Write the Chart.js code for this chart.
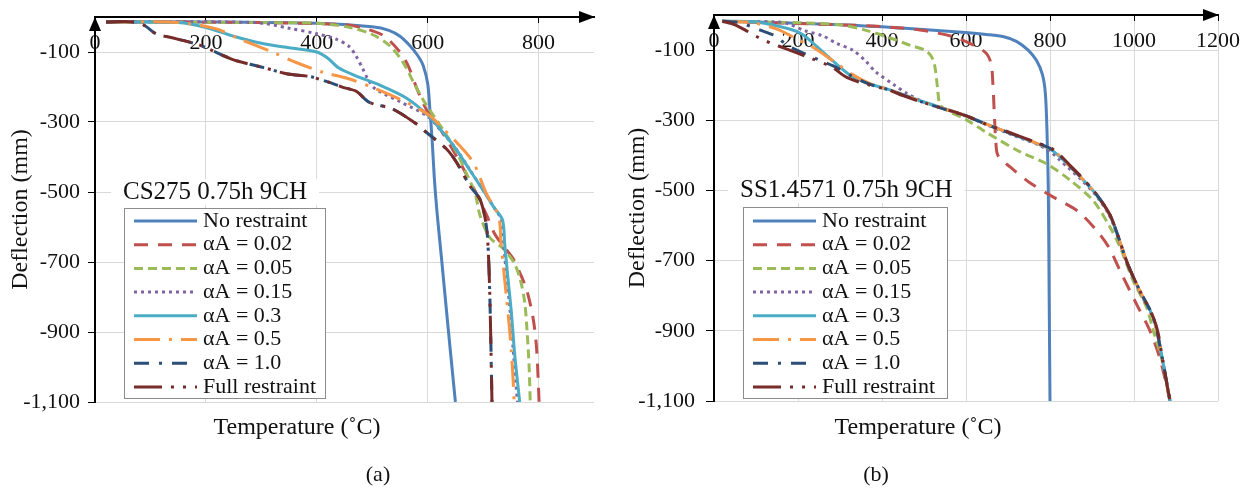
<!DOCTYPE html>
<html>
<head>
<meta charset="utf-8">
<title>Deflection vs temperature</title>
<script src="https://cdn.jsdelivr.net/npm/chart.js@4.4.1/dist/chart.umd.min.js"></script>
<style>
  html, body { margin: 0; padding: 0; background: #fff; }
  #wrap { position: relative; width: 1249px; height: 490px; overflow: hidden; }
  canvas { position: absolute; top: 0; }
  #chartA { left: 0; }
  #chartB { left: 620px; }
</style>
</head>
<body>
<div id="wrap">
  <canvas id="chartA" width="620" height="490"></canvas>
  <canvas id="chartB" width="629" height="490"></canvas>
</div>
<script>
// ---- data: [temperature (°C), deflection (mm)] ----
const seriesLabels = ['No restraint', 'αA = 0.02', 'αA = 0.05', 'αA = 0.15', 'αA = 0.3', 'αA = 0.5', 'αA = 1.0', 'Full restraint'];

const yTicks = [-1100, -900, -700, -500, -300, -100];
const xTicksA = [0, 200, 400, 600, 800];
const xTicksB = [0, 200, 400, 600, 800, 1000, 1200];

// (a) CS275 0.75h 9CH
const csNone = [[20,-14],[200,-14],[400,-18],[500,-28],[530,-38],[550,-55],[568,-82],[582,-110],[592,-139],[600,-190],[604,-263],[608,-350],[612,-460],[617,-560],[625,-690],[637,-890],[650,-1100]];
const csA002 = [[20,-14],[300,-16],[450,-22],[480,-30],[520,-53],[550,-100],[565,-140],[577,-190],[590,-240],[605,-285],[620,-315],[640,-365],[665,-435],[688,-505],[706,-565],[721,-620],[736,-653],[754,-690],[766,-730],[778,-777],[787,-834],[793,-891],[797,-960],[801,-1100]];
const csA005 = [[20,-14],[300,-16],[400,-18],[460,-30],[500,-50],[530,-80],[555,-128],[575,-188],[592,-237],[612,-285],[635,-340],[655,-395],[672,-455],[685,-500],[695,-570],[712,-630],[735,-660],[755,-700],[767,-750],[775,-815],[779,-890],[783,-1000],[785,-1100]];
const csA015 = [[20,-14],[290,-16],[350,-32],[400,-48],[435,-63],[459,-85],[471,-112],[483,-148],[492,-177],[505,-205],[550,-242],[600,-284],[625,-327],[650,-374],[675,-434],[700,-495],[720,-545],[733,-580],[737,-650],[743,-750],[749,-845],[755,-965],[762,-1100]];
const csA03 = [[20,-14],[150,-16],[200,-30],[250,-55],[300,-75],[350,-88],[400,-100],[420,-118],[440,-146],[470,-168],[510,-192],[560,-230],[600,-280],[625,-325],[650,-375],[675,-435],[700,-495],[720,-545],[735,-580],[739,-650],[745,-750],[751,-845],[757,-965],[766,-1100]];
const csA05 = [[20,-14],[150,-16],[219,-34],[261,-63],[321,-101],[363,-130],[411,-158],[459,-177],[508,-206],[562,-244],[604,-282],[622,-310],[652,-358],[682,-415],[706,-505],[728,-570],[732,-640],[737,-720],[742,-800],[747,-880],[751,-958],[754,-1034],[756,-1100]];
const csA10 = [[20,-14],[70,-14],[90,-25],[110,-48],[135,-58],[183,-77],[205,-91],[231,-110],[255,-125],[303,-144],[348,-163],[387,-170],[423,-187],[447,-201],[471,-212],[495,-244],[537,-263],[580,-306],[598,-330],[634,-377],[652,-415],[676,-482],[694,-520],[703,-570],[708,-630],[712,-790],[716,-1100]];
const csFull = [[20,-14],[70,-14],[90,-25],[110,-48],[135,-58],[183,-77],[205,-91],[231,-110],[255,-125],[303,-144],[348,-163],[387,-170],[423,-187],[447,-201],[471,-212],[495,-244],[537,-263],[580,-306],[598,-330],[634,-377],[652,-415],[676,-482],[694,-520],[703,-570],[708,-630],[712,-790],[716,-1100]];

// (b) SS1.4571 0.75h 9CH
const ssNone = [[20,-18],[100,-20],[300,-28],[455,-38],[574,-48],[653,-56],[690,-62],[720,-75],[748,-100],[768,-130],[782,-170],[789,-224],[793,-338],[796,-500],[798,-800],[800,-1100]];
const ssA002 = [[20,-18],[300,-28],[400,-33],[490,-43],[570,-62],[625,-90],[649,-110],[660,-140],[664,-195],[667,-270],[671,-360],[676,-400],[705,-433],[752,-478],[808,-519],[864,-557],[911,-614],[940,-662],[967,-729],[1006,-824],[1038,-900],[1062,-980],[1086,-1100]];
const ssA005 = [[20,-18],[200,-22],[300,-28],[360,-43],[423,-67],[471,-88],[502,-100],[518,-119],[526,-148],[532,-205],[538,-255],[555,-272],[600,-298],[649,-335],[729,-390],[792,-424],[848,-471],[903,-529],[943,-605],[967,-662],[998,-757],[1030,-833],[1046,-900],[1066,-980],[1086,-1100]];
const ssA015 = [[20,-18],[150,-20],[177,-25],[217,-45],[260,-60],[292,-81],[330,-100],[360,-130],[385,-162],[430,-200],[460,-224],[500,-248],[600,-288],[653,-315],[733,-352],[772,-370],[800,-388],[820,-410],[844,-436],[875,-470],[910,-515],[943,-575],[965,-645],[985,-712],[1014,-790],[1046,-865],[1067,-976],[1085,-1100]];
const ssA03 = [[20,-18],[100,-20],[180,-40],[210,-55],[245,-90],[285,-133],[325,-172],[370,-196],[415,-212],[500,-248],[600,-287],[653,-313],[733,-350],[772,-368],[800,-382],[820,-400],[844,-428],[875,-465],[910,-512],[943,-572],[965,-642],[985,-710],[1014,-788],[1046,-863],[1067,-976],[1085,-1100]];
const ssA05 = [[20,-18],[90,-22],[150,-40],[200,-70],[236,-92],[292,-138],[330,-170],[370,-195],[415,-212],[500,-249],[600,-287],[653,-313],[733,-349],[772,-367],[800,-381],[820,-398],[844,-427],[875,-464],[910,-511],[943,-571],[965,-641],[985,-710],[1014,-787],[1046,-862],[1067,-976],[1085,-1100]];
const ssA10 = [[20,-18],[60,-22],[110,-43],[150,-62],[173,-86],[252,-129],[292,-150],[330,-175],[370,-197],[415,-213],[500,-250],[600,-288],[653,-314],[733,-349],[772,-366],[800,-380],[820,-397],[844,-426],[875,-463],[910,-510],[943,-570],[965,-640],[985,-710],[1014,-786],[1046,-862],[1067,-976],[1086,-1100]];
const ssFull = [[20,-18],[50,-28],[82,-48],[110,-67],[137,-81],[169,-95],[232,-124],[280,-148],[316,-178],[371,-200],[415,-213],[450,-230],[500,-250],[600,-287],[653,-314],[693,-330],[733,-348],[772,-365],[800,-378],[820,-395],[844,-424],[875,-462],[910,-510],[943,-570],[965,-640],[985,-710],[1014,-786],[1046,-862],[1058,-909],[1067,-976],[1078,-1050],[1086,-1100]];

// ---- styles ----
const SERIF = '"Liberation Serif", "Times New Roman", serif';
const seriesColors = ['#4F81BD', '#C0504D', '#9BBB59', '#8064A2', '#4BACC6', '#F79646', '#2C4D75', '#772C2A'];
const seriesDashes = [[], [14, 10], [9, 5], [3, 4], [], [26, 9, 3, 9], [15, 10, 3, 10], [28, 9, 3, 9, 3, 9]];

// legend box, note, axis title and caption drawn on top of the plot
const panelDecor = {
  id: 'panelDecor',
  afterDraw(chart, args, o) {
    const ctx = chart.ctx;
    const area = chart.chartArea;
    ctx.save();

    // arrow heads on the axes
    ctx.fillStyle = '#000';
    ctx.beginPath();
    ctx.moveTo(area.left, area.top);
    ctx.lineTo(area.left - 6, area.top + 14);
    ctx.lineTo(area.left + 6, area.top + 14);
    ctx.closePath();
    ctx.fill();
    ctx.beginPath();
    ctx.moveTo(area.right + 1, area.top);
    ctx.lineTo(area.right - 15, area.top - 6);
    ctx.lineTo(area.right - 15, area.top + 6);
    ctx.closePath();
    ctx.fill();

    // note with white backing
    ctx.font = o.noteSize + 'px ' + SERIF;
    ctx.textBaseline = 'middle';
    const w = ctx.measureText(o.note).width;
    ctx.fillStyle = '#fff';
    ctx.fillRect(o.noteX - 12, o.noteY - 13, w + 24, 26);
    ctx.fillStyle = '#111';
    ctx.fillText(o.note, o.noteX, o.noteY);

    // legend
    const L = o.legend;
    ctx.fillStyle = '#fff';
    ctx.fillRect(L.x, L.y, L.w, L.h);
    ctx.strokeStyle = '#8c8c8c';
    ctx.lineWidth = 1;
    ctx.strokeRect(L.x + 0.5, L.y + 0.5, L.w, L.h);
    ctx.font = '22px ' + SERIF;
    chart.data.datasets.forEach((ds, i) => {
      const y = L.y + L.first + i * L.step;
      ctx.strokeStyle = ds.borderColor;
      ctx.lineWidth = ds.borderWidth;
      ctx.setLineDash(ds.borderDash);
      ctx.beginPath();
      ctx.moveTo(L.x + 10, y);
      ctx.lineTo(L.x + 73, y);
      ctx.stroke();
      ctx.setLineDash([]);
      ctx.fillStyle = '#111';
      ctx.fillText(ds.label, L.x + 79, y);
    });

    // x axis title and panel caption
    ctx.textAlign = 'center';
    ctx.font = '24px ' + SERIF;
    ctx.fillText('Temperature (˚C)', o.xTitleX, 428);
    ctx.font = '22px ' + SERIF;
    ctx.fillText(o.caption, o.captionX, 475);
    ctx.restore();
  }
};

function buildDatasets(list) {
  return list.map((pairs, i) => ({
    label: seriesLabels[i],
    data: pairs.map(([t, d]) => ({ x: t, y: d })),
    showLine: true,
    borderColor: seriesColors[i],
    backgroundColor: seriesColors[i],
    borderDash: seriesDashes[i],
    borderWidth: 3,
    pointRadius: 0,
    tension: 0.3,
    fill: false,
    order: 8 - i // later series on top, as in the original
  }));
}

function makePanel(canvasId, list, cfg) {
  const tickFont = { family: SERIF, size: 22, lineHeight: 1.2 };
  return new Chart(document.getElementById(canvasId), {
    type: 'scatter',
    data: { datasets: buildDatasets(list) },
    options: {
      responsive: false,
      animation: false,
      layout: { padding: { top: cfg.top, right: cfg.right, bottom: cfg.bottom, left: 0 } },
      plugins: {
        legend: { display: false },
        tooltip: { enabled: false },
        panelDecor: cfg.decor
      },
      scales: {
        x: {
          type: 'linear',
          position: { y: 0 },
          min: 0,
          max: cfg.xMax,
          afterBuildTicks: s => { s.ticks = cfg.xTicks.map(v => ({ value: v })); },
          grid: { color: '#d9d9d9', lineWidth: 1, tickLength: 5, tickColor: '#000' },
          border: { color: '#000', width: 2 },
          ticks: {
            color: '#111', padding: 8, maxRotation: 0, autoSkip: false, font: tickFont,
            callback: v => String(v)
          }
        },
        y: {
          type: 'linear',
          position: 'left',
          min: -1100,
          max: 0,
          afterBuildTicks: s => { s.ticks = yTicks.map(v => ({ value: v })); },
          afterFit: s => {
            s.width = cfg.yWidth;
            s.paddingTop = 0;
            s.paddingBottom = 0;
          },
          grid: { color: '#d9d9d9', lineWidth: 1, tickLength: cfg.yTickLen, tickColor: '#000' },
          border: { color: '#000', width: 2 },
          ticks: {
            color: '#111', padding: cfg.yPad, font: tickFont,
            callback: v => v.toLocaleString('en-US')
          },
          title: {
            display: true,
            text: 'Deflection (mm)',
            color: '#111',
            font: { family: SERIF, size: 24, lineHeight: 1.2 },
            padding: { top: cfg.yTitlePad, bottom: 0 }
          }
        }
      }
    },
    plugins: [panelDecor]
  });
}

makePanel('chartA', [csNone, csA002, csA005, csA015, csA03, csA05, csA10, csFull], {
  top: 17, right: 26, bottom: 88,
  xMax: 900, xTicks: xTicksA,
  yWidth: 95, yTickLen: 7, yPad: 8, yTitlePad: 6,
  decor: {
    note: 'CS275 0.75h 9CH', noteX: 123, noteY: 192, noteSize: 25,
    legend: { x: 124, y: 208, w: 201, h: 190, first: 13, step: 23.7 },
    xTitleX: 297, caption: '(a)', captionX: 378
  }
});

makePanel('chartB', [ssNone, ssA002, ssA005, ssA015, ssA03, ssA05, ssA10, ssFull], {
  top: 15, right: 31, bottom: 89,
  xMax: 1200, xTicks: xTicksB,
  yWidth: 94, yTickLen: 8, yPad: 11, yTitlePad: 3,
  decor: {
    note: 'SS1.4571 0.75h 9CH', noteX: 120, noteY: 190, noteSize: 25,
    legend: { x: 123, y: 207, w: 204, h: 191, first: 14, step: 23.7 },
    xTitleX: 298, caption: '(b)', captionX: 256
  }
});
</script>
</body>
</html>
